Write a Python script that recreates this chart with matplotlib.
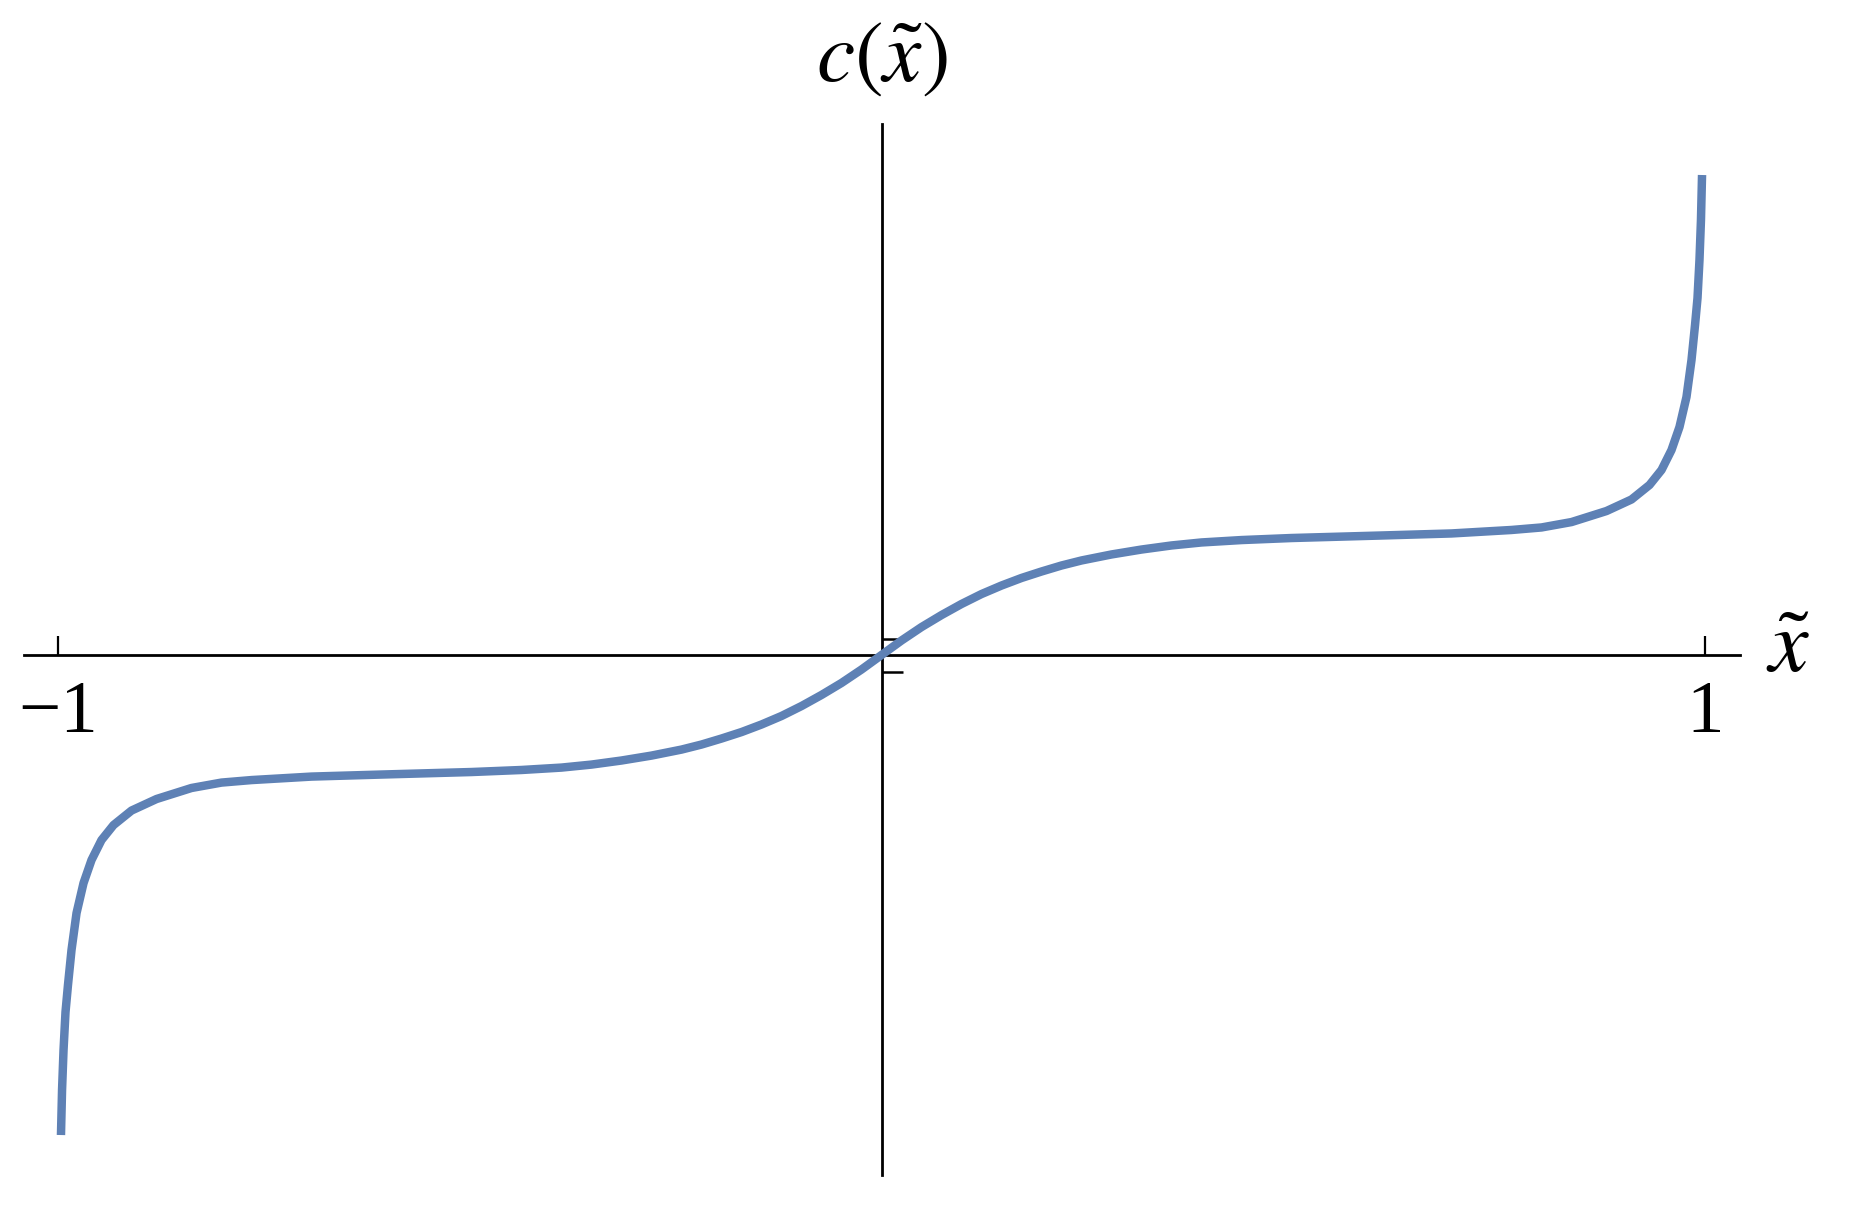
import matplotlib
matplotlib.use("Agg")
import matplotlib.pyplot as plt

# ---- data (right half; curve is odd-symmetric) ----
x_right = [0.0, 0.0243, 0.0486, 0.0729, 0.0971, 0.1214, 0.1457, 0.1700, 0.1943,
           0.2186, 0.2429, 0.2793, 0.3157, 0.3522, 0.3886, 0.4372, 0.4979, 0.6072,
           0.6922, 0.7650, 0.8015, 0.8379, 0.8804, 0.9107, 0.9326, 0.9472, 0.9593,
           0.9690, 0.9775, 0.9836, 0.9879, 0.9909, 0.9933, 0.9951, 0.9964]
c_right = [0.0, 0.121, 0.233, 0.333, 0.425, 0.508, 0.579, 0.642, 0.696,
           0.746, 0.788, 0.838, 0.879, 0.913, 0.938, 0.958, 0.975, 0.996,
           1.013, 1.042, 1.063, 1.108, 1.200, 1.296, 1.417, 1.542, 1.708,
           1.900, 2.150, 2.458, 2.750, 2.975, 3.292, 3.625, 4.000]

x_left = [-v for v in x_right[::-1]]
c_left = [-v for v in c_right[::-1]]

x_vals = x_left[:-1] + x_right
c_vals = c_left[:-1] + c_right

xtick_vals = [-1, 1]
xtick_labels = ["\u22121", "1"]
ytick_vals = [-0.1375, 0.1375]

plt.rcParams["mathtext.fontset"] = "stix"
plt.rcParams["font.family"] = ["Liberation Serif", "DejaVu Serif"]

W, H = 1852, 1206
fig = plt.figure(figsize=(W / 100, H / 100), dpi=100)
ax_left, ax_right_px = 24, 1740
ax_top, ax_bot = 124, 1175
ax = fig.add_axes([ax_left / W, (H - ax_bot) / H, (ax_right_px - ax_left) / W, (ax_bot - ax_top) / H])
ax.set_xlim(-1.0413, 1.0425)
ax.set_ylim(-4.333, 4.425)

ax.plot(x_vals, c_vals, color="#5E81B5", lw=6.1, solid_capstyle="butt", solid_joinstyle="round", zorder=3)

for s in ["top", "right"]:
    ax.spines[s].set_visible(False)
ax.spines["left"].set_position(("data", 0))
ax.spines["bottom"].set_position(("data", 0))
for s in ["left", "bottom"]:
    ax.spines[s].set_linewidth(2.0)
    ax.spines[s].set_color("black")
    ax.spines[s].set_zorder(2)

ax.set_xticks(xtick_vals)
ax.set_xticklabels(xtick_labels)
ax.set_yticks(ytick_vals)
ax.set_yticklabels([])
ax.tick_params(axis="x", direction="in", length=14, width=1.6, pad=18, labelsize=54)
ax.tick_params(axis="y", direction="in", length=15, width=1.8)

ax.text(1.1008, 0.04, r"$\tilde{x}$", fontsize=64, ha="center", va="center", clip_on=False)
ax.text(0.0, 4.958, r"$c(\tilde{x})$", fontsize=62, ha="center", va="center", clip_on=False)

fig.savefig("out.png", dpi=100, facecolor="white")
